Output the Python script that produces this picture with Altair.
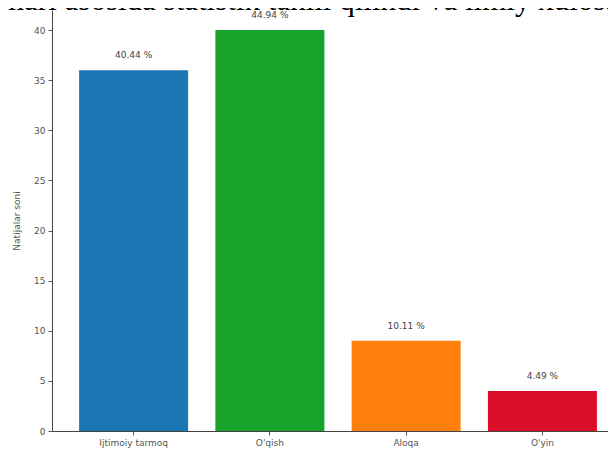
import altair as alt
import pandas as pd

categories = ["Ijtimoiy tarmoq", "O'qish", "Aloqa", "O'yin"]
counts = [36, 40, 9, 4]
pct_labels = ["40.44 %", "44.94 %", "10.11 %", "4.49 %"]
colors = ["#1a77b4", "#17a32b", "#ff7f0e", "#dc0f2b"]
y_ticks = [0, 5, 10, 15, 20, 25, 30, 35, 40]
header_text = "mari asosida statistik tahlil qilindi va ilmiy xulosa"

df = pd.DataFrame({"cat": categories, "n": counts, "lab": pct_labels, "col": colors})

x_enc = alt.X("cat:N", sort=categories,
              scale=alt.Scale(paddingInner=0.2, paddingOuter=0.14, align=0.71),
              axis=alt.Axis(title=None, labelAngle=0, labelFont="DejaVu Sans", labelFontSize=9,
                            labelColor="#555", tickColor="#555", tickSize=4, domainColor="#444",
                            labelPadding=3))

bars = alt.Chart(df).mark_bar().encode(
    x=x_enc,
    y=alt.Y("n:Q", scale=alt.Scale(domain=[0, 42], nice=False),
            axis=alt.Axis(values=y_ticks, title="Natijalar soni", labelFont="DejaVu Sans",
                          labelFontSize=9, labelColor="#555", tickColor="#555", tickSize=4,
                          domainColor="#444", grid=False, titleFont="DejaVu Sans",
                          titleFontSize=9, titleFontWeight="normal", titleColor="#555",
                          titlePadding=12, labelPadding=3)),
    color=alt.Color("col:N", scale=None),
)

labels = alt.Chart(df).mark_text(dy=-10, font="DejaVu Sans", fontSize=9, color="#444",
                                 baseline="bottom").encode(
    x=alt.X("cat:N", sort=categories),
    y="n:Q",
    text="lab:N",
)

header = alt.Chart(pd.DataFrame({"t": [header_text]})).mark_text(
    font="Liberation Serif", fontSize=31, color="#000", align="left", baseline="alphabetic"
).encode(x=alt.value(-52), y=alt.value(0), text="t:N")

chart = alt.layer(header, bars, labels).properties(
    width=556, height=421,
    autosize=alt.AutoSizeParams(type="none"),
    padding={"left": 44, "top": 2, "right": 0, "bottom": 18},
).configure_view(stroke=None)

chart.save("out.html", embed_options={"renderer": "svg", "actions": False})
